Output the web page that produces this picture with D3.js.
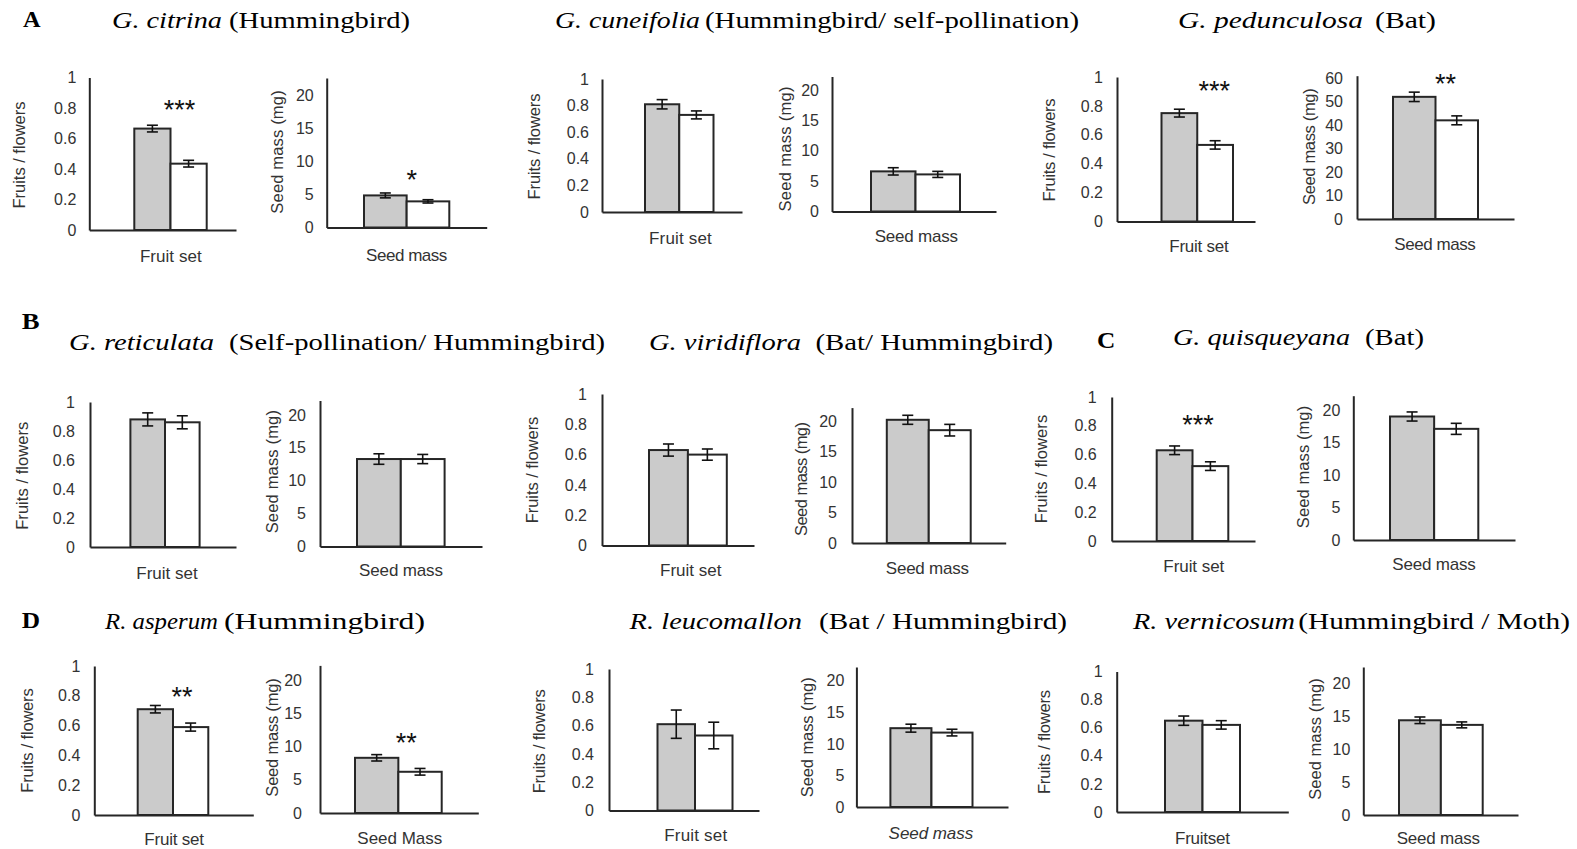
<!DOCTYPE html>
<html><head><meta charset="utf-8">
<script src="https://cdn.jsdelivr.net/npm/d3@7"></script>
<style>body{margin:0;background:#fff;} svg{display:block}</style>
</head><body>
<script>
// ---------------- DATA ----------------
const species = ["G. citrina","G. cuneifolia","G. pedunculosa","G. reticulata","G. viridiflora","G. quisqueyana","R. asperum","R. leucomallon","R. vernicosum"];
const pollinators = ["(Hummingbird)","(Hummingbird/ self-pollination)","(Bat)","(Self-pollination/ Hummingbird)","(Bat/ Hummingbird)","(Bat)","(Hummingbird)","(Bat / Hummingbird)","(Hummingbird / Moth)"];
const groupLetters = ["A","B","C","D"];
const treatments = ["grey","white"];

const fruitGray     = [0.665,0.81, 0.75, 0.88, 0.63, 0.63, 0.71, 0.61, 0.65];
const fruitGrayErr  = [0.022,0.035,0.027,0.045,0.04, 0.03, 0.025,0.10, 0.033];
const fruitWhite    = [0.435,0.73, 0.53, 0.86, 0.60, 0.52, 0.59, 0.53, 0.62];
const fruitWhiteErr = [0.022,0.03, 0.029,0.045,0.037,0.03, 0.027,0.094,0.03];

const seedGray      = [4.85,6.6, 52, 13.3, 20.2, 19.0, 8.3, 12.5, 14.4];
const seedGrayErr   = [0.37,0.6, 2.0, 0.8, 0.74, 0.7, 0.48,0.63, 0.5];
const seedWhite     = [3.95,6.1, 42, 13.3, 18.5, 17.1, 6.2, 11.8, 13.7];
const seedWhiteErr  = [0.25,0.5, 1.9, 0.7, 0.95, 0.85, 0.5, 0.53, 0.45];

const fruitTicks = [0,0.2,0.4,0.6,0.8,1];
const seedTicks = [0,5,10,15,20];
const seedTicksBat = [0,10,20,30,40,50,60];
const fruitMax = 1;
const seedMax = [22.6,22.2,61,22.2,22.2,22.2,22.2,22.2,22.5];

const fruitAxisTitle = "Fruits / flowers";
const seedAxisTitle = "Seed mass (mg)";
const fruitXLabels = ["Fruit set","Fruit set","Fruit set","Fruit set","Fruit set","Fruit set","Fruit set","Fruit set","Fruitset"];
const seedXLabels = ["Seed mass","Seed mass","Seed mass","Seed mass","Seed mass","Seed mass","Seed Mass","Seed mass","Seed mass"];
const seedXItalic = [false,false,false,false,false,false,false,true,false];
const fruitStars = ["***","","***","","","***","**","",""];
const seedStars  = ["*","","**","","","","**","",""];

// ---------------- LAYOUT ----------------
const letterLayout = [
  {x:23, y:26.5, len:17.6},
  {x:21.7, y:328.5, len:17.8},
  {x:1097, y:347.5, len:18.3},
  {x:21.7, y:628, len:18.3}
];
const titleLayout = [
  {y:27.5, ix:112, il:110, nx:229, nl:181},
  {y:27.5, ix:555, il:145, nx:705, nl:374},
  {y:27.5, ix:1178, il:185, nx:1375, nl:61},
  {y:350, ix:69, il:145, nx:229, nl:376},
  {y:350, ix:649, il:152, nx:815.5, nl:237.5},
  {y:344.5, ix:1173, il:177, nx:1365, nl:59},
  {y:629, ix:105, il:113, nx:224, nl:201},
  {y:629, ix:629.6, il:172.4, nx:819, nl:248},
  {y:629, ix:1133, il:162, nx:1298.3, nl:271.7}
];
const fruitLayout = [
  {ax:89.3, right:236, b0:134.3, b1:206.7, y0:230, yTop:77.5, pad:13, yt:[19.7,155,107], xl:[170.8,262,61.7], st:[9,-22]},
  {ax:602, right:742, b0:645, b1:713.5, y0:212, yTop:79, pad:13, yt:[534.6,146.5,106], xl:[680.4,244,62.7], st:[0,0]},
  {ax:1117, right:1255, b0:1161.5, b1:1233, y0:221.5, yTop:77, pad:14, yt:[1049.6,150,103], xl:[1199,252,59.3], st:[17,-24.5]},
  {ax:90, right:236, b0:130.4, b1:199.6, y0:547, yTop:402, pad:15, yt:[22,475.8,108], xl:[167,579,61.3], st:[0,0]},
  {ax:602, right:754, b0:649, b1:726.8, y0:545.5, yTop:394, pad:15, yt:[532.3,470,106.7], xl:[690.7,576,61.4], st:[0,0]},
  {ax:1111.7, right:1255, b0:1156.7, b1:1228.3, y0:541, yTop:397, pad:15, yt:[1041.3,469,108.3], xl:[1193.8,572,61], st:[5.5,-27]},
  {ax:94.3, right:253.3, b0:137.7, b1:208.3, y0:815, yTop:666, pad:14, yt:[27.5,740.5,104.3], xl:[174.2,845,59.7], st:[9,-14.5]},
  {ax:609, right:759, b0:657.5, b1:732.5, y0:810.5, yTop:669, pad:15, yt:[539.4,741.3,104], xl:[695.7,841,62.9], st:[0,0]},
  {ax:1116.7, right:1288.3, b0:1165, b1:1240, y0:812, yTop:671.5, pad:14, yt:[1044.5,742,104], xl:[1202.5,844,55], st:[0,0]}
];
const seedLayout = [
  {ax:326.7, right:486.7, b0:364, b1:449.3, y0:227.5, yTop:78, pad:13, yt:[277.5,152,123.3], xl:[406.7,261,81.3], st:[5,-19]},
  {ax:832, right:996, b0:871, b1:960, y0:211.5, yTop:76.5, pad:13, yt:[785,149,125], xl:[916.4,242,83.3], st:[0,0]},
  {ax:1357, right:1514, b0:1393, b1:1478, y0:219, yTop:75.7, pad:14, yt:[1309.6,146.7,116.7], xl:[1435,250,81.3], st:[10,-15]},
  {ax:320, right:482, b0:357, b1:444.6, y0:546.5, yTop:400.5, pad:14, yt:[271.8,471.7,123.3], xl:[401,576,83.8], st:[0,0]},
  {ax:852, right:1005.7, b0:886.8, b1:970.7, y0:543, yTop:407.6, pad:15, yt:[801,479,114], xl:[927.4,574,83.2], st:[0,0]},
  {ax:1353.3, right:1515, b0:1390, b1:1478.3, y0:540, yTop:395.7, pad:13, yt:[1303.3,467,122.3], xl:[1434,570,83.3], st:[0,0]},
  {ax:320, right:478.3, b0:355, b1:441.7, y0:813, yTop:665.4, pad:18, yt:[272.2,737.5,118.3], xl:[399.8,844,85], st:[8,-18]},
  {ax:856.4, right:1008, b0:890.4, b1:972.5, y0:807, yTop:667, pad:12, yt:[807,737.3,120], xl:[930.9,839,84.6], st:[0,0]},
  {ax:1363.3, right:1518, b0:1399, b1:1482.7, y0:815, yTop:667, pad:13, yt:[1315,739,121.7], xl:[1438.3,844,83.3], st:[0,0]}
];

// ---------------- STYLE ----------------
const INK = "#262626";
const GREY = "#cbcbcb";
const SANS = "'Liberation Sans', Arial, sans-serif";
const SERIF = "'Liberation Serif', 'Times New Roman', serif";

const svg = d3.select("body").append("svg").attr("width",1577).attr("height",849)
  .style("background","#fff");

// panel letters
groupLetters.forEach((t,i)=>{
  const L = letterLayout[i];
  svg.append("text").attr("x",L.x).attr("y",L.y).text(t)
    .attr("font-family",SERIF).attr("font-weight","bold").attr("font-size",23)
    .attr("textLength",L.len).attr("lengthAdjust","spacingAndGlyphs").attr("fill","#000");
});

// species titles
species.forEach((s,i)=>{
  const T = titleLayout[i];
  svg.append("text").attr("x",T.ix).attr("y",T.y).text(s)
    .attr("font-family",SERIF).attr("font-style","italic").attr("font-size",23)
    .attr("textLength",T.il).attr("lengthAdjust","spacingAndGlyphs").attr("fill","#000");
  svg.append("text").attr("x",T.nx).attr("y",T.y).text(pollinators[i])
    .attr("font-family",SERIF).attr("font-size",23)
    .attr("textLength",T.nl).attr("lengthAdjust","spacingAndGlyphs").attr("fill","#000");
});

const fmt = d3.format("~g");

function drawPanel(L, vals, errs, max, ticks, yTitle, xLabel, italicX, star){
  const g = svg.append("g");
  const y = d3.scaleLinear().domain([0,max]).range([L.y0, L.yTop]);
  const x = d3.scaleBand().domain(treatments).range([L.b0, L.b1]).paddingInner(0).paddingOuter(0);
  const data = treatments.map((t,k)=>({t, v:vals[k], e:errs[k]}));

  // bars
  g.selectAll("rect.bar").data(data).join("rect").attr("class","bar")
    .attr("x",d=>x(d.t)).attr("width",x.bandwidth())
    .attr("y",d=>y(d.v)).attr("height",d=>y(0)-y(d.v))
    .attr("fill",d=>d.t==="grey"?GREY:"#fff")
    .attr("stroke",INK).attr("stroke-width",2);

  // error bars
  const cap = 5.5;
  const eb = g.selectAll("g.err").data(data).join("g").attr("class","err")
    .attr("stroke","#111").attr("stroke-width",1.6).attr("fill","none");
  eb.append("line").attr("x1",d=>x(d.t)+x.bandwidth()/2).attr("x2",d=>x(d.t)+x.bandwidth()/2)
    .attr("y1",d=>y(d.v-d.e)).attr("y2",d=>y(d.v+d.e));
  eb.append("line").attr("x1",d=>x(d.t)+x.bandwidth()/2-cap).attr("x2",d=>x(d.t)+x.bandwidth()/2+cap)
    .attr("y1",d=>y(d.v+d.e)).attr("y2",d=>y(d.v+d.e));
  eb.append("line").attr("x1",d=>x(d.t)+x.bandwidth()/2-cap).attr("x2",d=>x(d.t)+x.bandwidth()/2+cap)
    .attr("y1",d=>y(d.v-d.e)).attr("y2",d=>y(d.v-d.e));

  // y axis
  const ya = g.append("g").attr("transform",`translate(${L.ax},0)`)
    .call(d3.axisLeft(y).tickValues(ticks).tickFormat(fmt).tickSize(0).tickSizeOuter(0).tickPadding(L.pad));
  ya.select(".domain").attr("stroke",INK).attr("stroke-width",2);
  ya.selectAll("text").attr("font-family",SANS).attr("font-size",16).attr("fill","#333");

  // x axis (baseline)
  const xs = d3.scaleLinear().domain([0,1]).range([L.ax, L.right]);
  const xa = g.append("g").attr("transform",`translate(0,${L.y0})`)
    .call(d3.axisBottom(xs).tickValues([]).tickSizeOuter(0));
  xa.select(".domain").attr("stroke",INK).attr("stroke-width",2);

  // axis title
  g.append("text").attr("transform",`translate(${L.yt[0]},${L.yt[1]}) rotate(-90)`)
    .attr("text-anchor","middle").attr("dy","0.35em").text(yTitle)
    .attr("font-family",SANS).attr("font-size",16.5).attr("fill","#333")
    .attr("textLength",L.yt[2]).attr("lengthAdjust","spacing");

  // x label
  g.append("text").attr("x",L.xl[0]).attr("y",L.xl[1]).attr("text-anchor","middle").text(xLabel)
    .attr("font-family",SANS).attr("font-size",17).attr("fill","#333")
    .attr("font-style",italicX?"italic":"normal")
    .attr("textLength",L.xl[2]).attr("lengthAdjust","spacing");

  // significance stars
  if(star){
    const gd = data[0];
    g.append("text").attr("x",x("white")+L.st[0]).attr("y",y(gd.v+gd.e)+L.st[1])
      .attr("dy",15.5).attr("text-anchor","middle").text(star)
      .attr("font-family",SANS).attr("font-size",27).attr("fill","#111");
  }
}

species.forEach((s,i)=>{
  drawPanel(fruitLayout[i],[fruitGray[i],fruitWhite[i]],[fruitGrayErr[i],fruitWhiteErr[i]],
    fruitMax, fruitTicks, fruitAxisTitle, fruitXLabels[i], false, fruitStars[i]);
  drawPanel(seedLayout[i],[seedGray[i],seedWhite[i]],[seedGrayErr[i],seedWhiteErr[i]],
    seedMax[i], i===2?seedTicksBat:seedTicks, seedAxisTitle, seedXLabels[i], seedXItalic[i], seedStars[i]);
});
</script></body></html>
